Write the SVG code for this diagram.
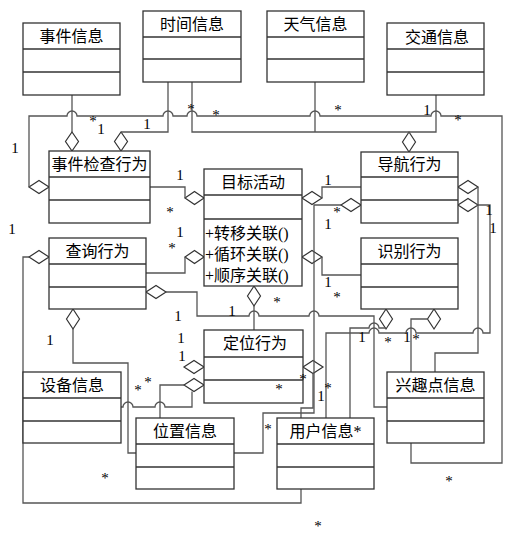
<svg xmlns="http://www.w3.org/2000/svg" width="515" height="535" viewBox="0 0 515 535">
<style>
.b{fill:#fff;stroke:#333;stroke-width:1.3}
.s{stroke:#333;stroke-width:1.3}
.c{fill:none;stroke:#555;stroke-width:1.3}
.d{fill:#fff;stroke:#333;stroke-width:1.2}
.t{font-family:"Liberation Serif","Noto Sans CJK SC",serif;font-size:16px;text-anchor:middle;fill:#000}
.m{font-family:"Liberation Serif","Noto Sans CJK SC",serif;font-size:16px;fill:#000}
.l{font-family:"Liberation Serif",serif;font-size:15px;text-anchor:middle;fill:#000}
</style>
<rect width="515" height="535" fill="#fff"/>
<g id="connectors">
<g id="diamonds">
<polygon class="d" points="72,132 78.5,141.5 72,151 65.5,141.5"/>
<polygon class="d" points="121,132 127.5,141.5 121,151 114.5,141.5"/>
<polygon class="d" points="409,132 415.5,142 409,152 402.5,142"/>
<polygon class="d" points="29,187 39,180.5 49,187 39,193.5"/>
<polygon class="d" points="185,198 194.5,191.5 204,198 194.5,204.5"/>
<polygon class="d" points="185,257 194.5,250.5 204,257 194.5,263.5"/>
<polygon class="d" points="302,198 312,191.5 322,198 312,204.5"/>
<polygon class="d" points="302,257 312,250.5 322,257 312,263.5"/>
<polygon class="d" points="341,205 351,198.5 361,205 351,211.5"/>
<polygon class="d" points="458,187 468,180.5 478,187 468,193.5"/>
<polygon class="d" points="458,205 468,198.5 478,205 468,211.5"/>
<polygon class="d" points="29,257 39,250.5 49,257 39,263.5"/>
<polygon class="d" points="146,292 156,285.5 166,292 156,298.5"/>
<polygon class="d" points="184,367 194,360.5 204,367 194,373.5"/>
<polygon class="d" points="184,385 194,378.5 204,385 194,391.5"/>
<polygon class="d" points="303,367 313,360.5 323,367 313,373.5"/>
<polygon class="d" points="73,309 79.5,319 73,329 66.5,319"/>
<polygon class="d" points="254,286 260.5,296 254,306 247.5,296"/>
<polygon class="d" points="386,309 392.5,319 386,329 379.5,319"/>
<polygon class="d" points="434,309 440.5,319 434,329 427.5,319"/>
</g>
<path class="c" d="M29,187 V116 H67 a5,5 0 0 1 10,0 H163 a5,5 0 0 1 10,0 H187 a5,5 0 0 1 10,0 H310 a5,5 0 0 1 10,0 H431 a5,5 0 0 1 10,0 H502 V463 H411 V443"/>
<path class="c" d="M72,95 V132"/>
<path class="c" d="M168,82 V132 H121"/>
<path class="c" d="M192,82 V132 H436 V95 M315,82 V132"/>
<path class="c" d="M150,187 H185 V198"/>
<path class="c" d="M146,273 H185 V257"/>
<path class="c" d="M322,198 V187 H361"/>
<path class="c" d="M341,205 H314 V413 H263 V453 H234"/>
<path class="c" d="M322,257 V275 H361"/>
<path class="c" d="M254,306 V330"/>
<path class="c" d="M166,292 H197 V316 H249 a5,5 0 0 1 10,0 H309 a5,5 0 0 1 10,0 H374 V407 H387"/>
<path class="c" d="M29,257 H23 V503 H301 V489"/>
<path class="c" d="M73,329 V363 H128 V453 H136"/>
<path class="c" d="M121,407 H123 a5,5 0 0 1 10,0 H155 a5,5 0 0 1 10,0 H192 V391.5"/>
<path class="c" d="M160,418 V385 H184"/>
<path class="c" d="M313,373.5 V408 H301 V418"/>
<path class="c" d="M350,418 V328 H369 a5,5 0 0 1 10,0 H386"/>
<path class="c" d="M427.5,319 H411 V372"/>
<path class="c" d="M326,418 V333 H369 a5,5 0 0 1 10,0 H406 a5,5 0 0 1 10,0 H473 a5,5 0 0 1 10,0 H490 V205 H478"/>
<path class="c" d="M478,187 V353 H435 V372"/>
</g>
<g id="n-event"><rect class="b" x="23" y="23" width="97" height="72"/><line class="s" x1="23" y1="49" x2="120" y2="49"/><line class="s" x1="23" y1="72" x2="120" y2="72"/><text class="t" x="71.5" y="42">事件信息</text></g>
<g id="n-time"><rect class="b" x="143" y="11" width="98" height="71"/><line class="s" x1="143" y1="37" x2="241" y2="37"/><line class="s" x1="143" y1="59" x2="241" y2="59"/><text class="t" x="192" y="30">时间信息</text></g>
<g id="n-weather"><rect class="b" x="267" y="11" width="97" height="71"/><line class="s" x1="267" y1="37" x2="364" y2="37"/><line class="s" x1="267" y1="59" x2="364" y2="59"/><text class="t" x="315.5" y="30">天气信息</text></g>
<g id="n-traffic"><rect class="b" x="387" y="23" width="97" height="72"/><line class="s" x1="387" y1="49" x2="484" y2="49"/><line class="s" x1="387" y1="72" x2="484" y2="72"/><text class="t" x="437" y="43">交通信息</text></g>
<g id="n-check"><rect class="b" x="49" y="151" width="101" height="72"/><line class="s" x1="49" y1="177" x2="150" y2="177"/><line class="s" x1="49" y1="200" x2="150" y2="200"/><text class="t" x="99.5" y="170">事件检查行为</text></g>
<g id="n-target"><rect class="b" x="204" y="169" width="98" height="117"/><line class="s" x1="204" y1="195" x2="302" y2="195"/><line class="s" x1="204" y1="219" x2="302" y2="219"/><text class="t" x="253" y="188">目标活动</text><text class="m" x="205" y="239">+转移关联()</text><text class="m" x="205" y="260">+循环关联()</text><text class="m" x="205" y="281">+顺序关联()</text></g>
<g id="n-nav"><rect class="b" x="361" y="152" width="97" height="71"/><line class="s" x1="361" y1="177" x2="458" y2="177"/><line class="s" x1="361" y1="200" x2="458" y2="200"/><text class="t" x="409.5" y="170">导航行为</text></g>
<g id="n-query"><rect class="b" x="49" y="238" width="97" height="71"/><line class="s" x1="49" y1="264" x2="146" y2="264"/><line class="s" x1="49" y1="287" x2="146" y2="287"/><text class="t" x="97.5" y="257">查询行为</text></g>
<g id="n-recog"><rect class="b" x="361" y="238" width="97" height="71"/><line class="s" x1="361" y1="264" x2="458" y2="264"/><line class="s" x1="361" y1="287" x2="458" y2="287"/><text class="t" x="409.5" y="257">识别行为</text></g>
<g id="n-locate"><rect class="b" x="204" y="330" width="99" height="73"/><line class="s" x1="204" y1="357" x2="303" y2="357"/><line class="s" x1="204" y1="380" x2="303" y2="380"/><text class="t" x="255" y="349">定位行为</text></g>
<g id="n-device"><rect class="b" x="23" y="372" width="98" height="71"/><line class="s" x1="23" y1="398" x2="121" y2="398"/><line class="s" x1="23" y1="421" x2="121" y2="421"/><text class="t" x="72" y="391">设备信息</text></g>
<g id="n-position"><rect class="b" x="136" y="418" width="98" height="71"/><line class="s" x1="136" y1="444" x2="234" y2="444"/><line class="s" x1="136" y1="467" x2="234" y2="467"/><text class="t" x="185" y="437">位置信息</text></g>
<g id="n-user"><rect class="b" x="277" y="418" width="97" height="71"/><line class="s" x1="277" y1="444" x2="374" y2="444"/><line class="s" x1="277" y1="467" x2="374" y2="467"/><text class="t" x="325.5" y="437">用户信息*</text></g>
<g id="n-poi"><rect class="b" x="387" y="372" width="97" height="71"/><line class="s" x1="387" y1="398" x2="484" y2="398"/><line class="s" x1="387" y1="421" x2="484" y2="421"/><text class="t" x="435.5" y="391">兴趣点信息</text></g>
<g id="labels">
<text class="l" x="15" y="153">1</text>
<text class="l" x="93" y="126">*</text>
<text class="l" x="101" y="134">1</text>
<text class="l" x="147" y="129">1</text>
<text class="l" x="191" y="114">*</text>
<text class="l" x="216" y="120">*</text>
<text class="l" x="338" y="115">*</text>
<text class="l" x="427" y="115">1</text>
<text class="l" x="458" y="125">*</text>
<text class="l" x="180" y="180">1</text>
<text class="l" x="170" y="217">*</text>
<text class="l" x="12" y="234">1</text>
<text class="l" x="180" y="237">1</text>
<text class="l" x="172" y="253">*</text>
<text class="l" x="328" y="185">1</text>
<text class="l" x="337" y="217">*</text>
<text class="l" x="328" y="229">1</text>
<text class="l" x="328" y="287">1</text>
<text class="l" x="337" y="302">*</text>
<text class="l" x="489" y="215">1</text>
<text class="l" x="493" y="233">1</text>
<text class="l" x="277" y="307">*</text>
<text class="l" x="232" y="316">1</text>
<text class="l" x="178" y="321">1</text>
<text class="l" x="181" y="343">1</text>
<text class="l" x="182" y="361">1</text>
<text class="l" x="50" y="345">1</text>
<text class="l" x="138" y="395">*</text>
<text class="l" x="148" y="387">*</text>
<text class="l" x="303" y="384">*</text>
<text class="l" x="279" y="394">*</text>
<text class="l" x="321" y="401">1</text>
<text class="l" x="328" y="393">*</text>
<text class="l" x="268" y="434">*</text>
<text class="l" x="362" y="342">1</text>
<text class="l" x="388" y="347">*</text>
<text class="l" x="407" y="342">1</text>
<text class="l" x="416" y="344">*</text>
<text class="l" x="105" y="483">*</text>
<text class="l" x="449" y="486">*</text>
<text class="l" x="318" y="531">*</text>
</g>
</svg>
